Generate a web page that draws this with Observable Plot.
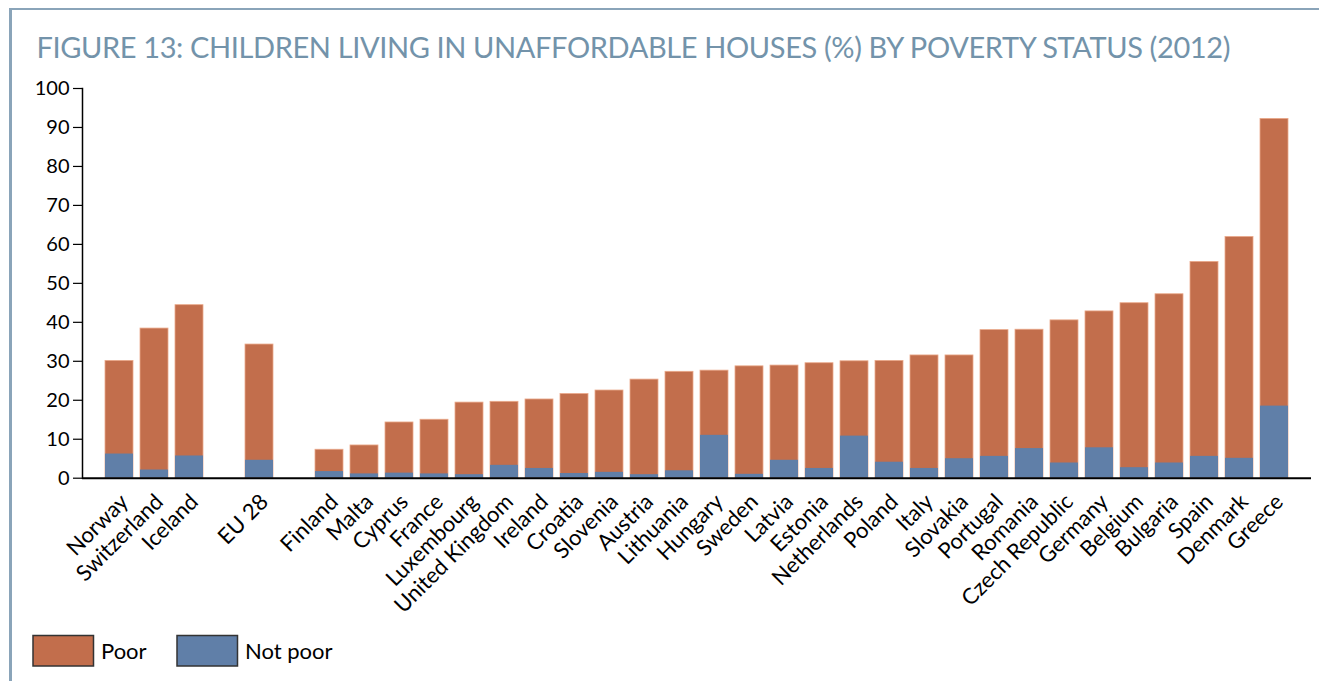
<!DOCTYPE html>
<html>
<head>
<meta charset="utf-8">
<script src="https://cdn.jsdelivr.net/npm/d3@7"></script>
<script src="https://cdn.jsdelivr.net/npm/@observablehq/plot@0.6"></script>
<style>
  html, body { margin: 0; padding: 0; background: #fff; }
  #page { position: relative; width: 1319px; height: 681px; overflow: hidden; font-family: Lato, "Open Sans", sans-serif; }
  #borderLeft { position: absolute; left: 9px; top: 8px; width: 3px; height: 700px; background: #8aa4b9; }
  #borderTop { position: absolute; left: 9px; top: 8px; width: 1320px; height: 2px; background: #8aa4b9; }
  #title { position: absolute; left: 0; top: 0; }
  #chart { position: absolute; left: 0; top: 70px; }
  #legend { position: absolute; left: 0; top: 620px; }
</style>
</head>
<body>
<div id="page">
  <div id="borderLeft"></div>
  <div id="borderTop"></div>
  <svg id="title" width="1319" height="70">
    <text x="36.5" y="57.5" font-family="Lato, sans-serif" font-size="29" fill="#7393aa" textLength="1194" lengthAdjust="spacing">FIGURE 13: CHILDREN LIVING IN UNAFFORDABLE HOUSES (%) BY POVERTY STATUS (2012)</text>
  </svg>
  <div id="chart"></div>
  <svg id="legend" width="400" height="61"></svg>
</div>
<script>
// ---- data ----
const countries = ["Norway","Switzerland","Iceland","EU 28","Finland","Malta","Cyprus","France","Luxembourg","United Kingdom","Ireland","Croatia","Slovenia","Austria","Lithuania","Hungary","Sweden","Latvia","Estonia","Netherlands","Poland","Italy","Slovakia","Portugal","Romania","Czech Republic","Germany","Belgium","Bulgaria","Spain","Denmark","Greece"];
const poor = [30.1,38.4,44.4,34.3,7.3,8.4,14.3,15.0,19.4,19.6,20.2,21.6,22.5,25.3,27.3,27.6,28.7,28.9,29.5,30.0,30.1,31.5,31.5,38.0,38.1,40.5,42.8,44.9,47.2,55.5,61.9,92.2];
const notPoor = [6.2,2.1,5.7,4.6,1.7,1.1,1.3,1.1,0.9,3.3,2.5,1.2,1.5,0.9,1.9,11.0,1.0,4.6,2.5,10.8,4.1,2.5,5.0,5.6,7.6,3.9,7.8,2.7,3.9,5.6,5.1,18.5];
const yTicks = [0,10,20,30,40,50,60,70,80,90,100];
const seriesNames = ["Poor","Not poor"];
const seriesColors = ["#c26e4c","#607fa8"];
// empty slots after Iceland and after EU 28
const gapAfter = ["Iceland","EU 28"];

const xDomain = [];
countries.forEach((c, i) => { xDomain.push(c); if (gapAfter.includes(c)) xDomain.push(" ".repeat(i + 1)); });
const rows = countries.map((c, i) => ({country: c, poor: poor[i], notPoor: notPoor[i]}));

const font = "Lato, 'Open Sans', sans-serif";
const H = 540;
const chart = Plot.plot({
  width: 1319,
  height: H,
  marginTop: 18,
  marginLeft: 82,
  marginRight: 8,
  marginBottom: 132.3,
  style: {fontFamily: font, fontSize: "20px", color: "#000", background: "transparent", overflow: "visible"},
  x: {domain: xDomain, type: "band", paddingInner: 0.2, paddingOuter: 0.3, axis: null},
  y: {domain: [0, 100], ticks: yTicks, label: null},
  marks: [
    Plot.barY(rows, {x: "country", y: "poor", fill: seriesColors[0], stroke: "#eaa98a", strokeWidth: 0.8}),
    Plot.barY(rows, {x: "country", y: "notPoor", fill: seriesColors[1]}),
    Plot.axisY({ticks: yTicks, tickSize: 9, tickPadding: 4, fontSize: 20, stroke: "#000", strokeWidth: 1.2, label: null}),
    Plot.frame({anchor: "left", stroke: "#000", strokeWidth: 1.5}),
    Plot.ruleY([0], {stroke: "#000", strokeWidth: 2}),
    Plot.text(countries, {x: d => d, y: () => 0, text: d => d, rotate: -45, textAnchor: "end", fontSize: 22, dx: 5, dy: 20, fill: "#000"})
  ]
});
document.getElementById("chart").appendChild(chart);

// legend
const lg = d3.select("#legend");
const items = [{x: 33, tx: 101}, {x: 177, tx: 245}];
seriesNames.forEach((name, i) => {
  lg.append("rect").attr("x", items[i].x).attr("y", 15.5).attr("width", 60.5).attr("height", 30.5)
    .attr("fill", seriesColors[i]).attr("stroke", "#333").attr("stroke-width", 1.5);
  lg.append("text").attr("x", items[i].tx).attr("y", 39).attr("font-family", font).attr("font-size", 22)
    .attr("fill", "#000").text(name);
});
</script>
</body>
</html>
